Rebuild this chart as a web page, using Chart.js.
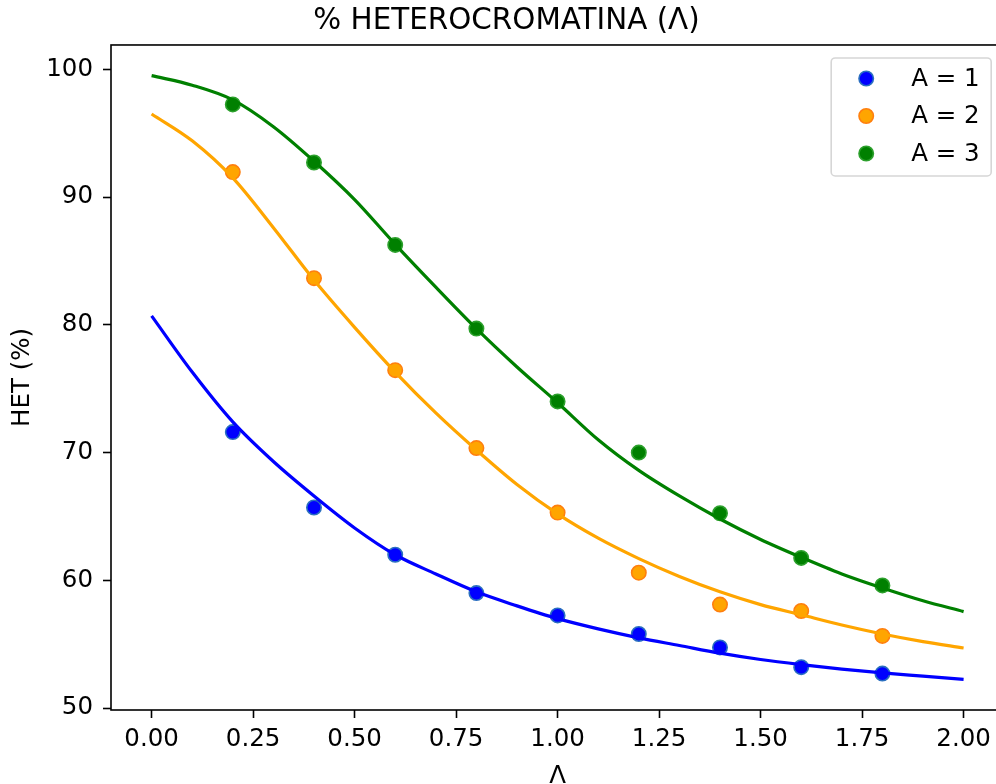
<!DOCTYPE html>
<html>
<head>
<meta charset="utf-8">
<title>% HETEROCROMATINA</title>
<script src="https://cdn.jsdelivr.net/npm/chart.js@4/dist/chart.umd.min.js"></script>
<style>
html, body { margin: 0; padding: 0; background: #fff; overflow: hidden; }
#wrap { width: 1013px; height: 800px; }
</style>
</head>
<body>
<div id="wrap"><canvas id="graphHet" width="1013" height="800"></canvas></div>
<script>
// Measured points (Lambda, HET %)
var lambdaPoints = [0.2, 0.4, 0.6, 0.8, 1.0, 1.2, 1.4, 1.6, 1.8];
var het1Points = [71.6, 65.7, 62.0, 59.0, 57.25, 55.8, 54.75, 53.2, 52.7];
var het2Points = [91.95, 83.65, 76.45, 70.35, 65.3, 60.6, 58.1, 57.6, 55.65];
var het3Points = [97.25, 92.7, 86.25, 79.7, 74.0, 70.0, 65.25, 61.75, 59.6];

// Fitted curves, every 0.1
var lambdaFit = [0, 0.1, 0.2, 0.3, 0.4, 0.5, 0.6, 0.7, 0.8, 0.9, 1.0, 1.1, 1.2, 1.3, 1.4, 1.5, 1.6, 1.7, 1.8, 1.9, 2.0];
var het1Fit = [80.7, 76.3, 72.4, 69.3, 66.6, 64.1, 62.0, 60.5, 59.1, 58.0, 57.0, 56.2, 55.5, 54.9, 54.3, 53.8, 53.4, 53.05, 52.75, 52.5, 52.25];
var het2Fit = [96.5, 94.4, 91.5, 87.6, 83.5, 79.8, 76.3, 73.1, 70.2, 67.5, 65.2, 63.3, 61.7, 60.3, 59.1, 58.1, 57.3, 56.5, 55.8, 55.2, 54.7];
var het3Fit = [99.5, 98.75, 97.6, 95.5, 92.8, 89.8, 86.3, 82.95, 79.7, 76.7, 73.9, 71.0, 68.6, 66.6, 64.8, 63.2, 61.8, 60.5, 59.4, 58.4, 57.55];

var seriesLabels = ['A = 1', 'A = 2', 'A = 3'];
var xTicks = [0, 0.25, 0.5, 0.75, 1.0, 1.25, 1.5, 1.75, 2.0];
var yTicks = [50, 60, 70, 80, 90, 100];

var lineColors = ['#0000ff', '#ffa500', '#008000'];
var edgeColors = ['#2a6fc0', '#ff7f0e', '#2ca02c'];

/**
 * Pair x and y arrays into {x, y} points
 */
function toXY(xs, ys) {
    var out = [];
    for (var i = 0; i < xs.length; i++) {
        out.push({x: xs[i], y: ys[i]});
    }
    return out;
}

var pointSets = [het1Points, het2Points, het3Points];
var fitSets = [het1Fit, het2Fit, het3Fit];
var datasets = [];

for (var i = 0; i < 3; i++) {
    datasets.push({
        type: 'scatter',
        label: seriesLabels[i],
        data: toXY(lambdaPoints, pointSets[i]),
        backgroundColor: lineColors[i],
        borderColor: edgeColors[i],
        borderWidth: 1.6,
        pointRadius: 7.2,
        pointHoverRadius: 7.2,
        order: 1
    });
    datasets.push({
        type: 'line',
        label: '',
        data: toXY(lambdaFit, fitSets[i]),
        borderColor: lineColors[i],
        borderWidth: 3.2,
        pointRadius: 0,
        fill: false,
        cubicInterpolationMode: 'monotone',
        order: 0
    });
}

// Axes box and legend drawn like matplotlib
var frameAndLegend = {
    id: 'frameAndLegend',
    afterDraw: function(chart) {
        var ctx = chart.ctx;
        var area = chart.chartArea;
        ctx.save();
        ctx.strokeStyle = '#000';
        ctx.lineWidth = 1.6;
        ctx.strokeRect(area.left, area.top, area.right - area.left, area.bottom - area.top);

        var boxW = 160, boxH = 118;
        var boxLeft = area.right - 13 - boxW;
        var boxTop = area.top + 13;
        ctx.beginPath();
        ctx.roundRect(boxLeft, boxTop, boxW, boxH, 4);
        ctx.fillStyle = 'rgba(255,255,255,0.8)';
        ctx.fill();
        ctx.strokeStyle = '#d6d6d6';
        ctx.lineWidth = 1.6;
        ctx.stroke();

        ctx.font = '24.5px "DejaVu Sans"';
        ctx.textBaseline = 'middle';
        ctx.textAlign = 'left';
        for (var k = 0; k < 3; k++) {
            var cy = boxTop + 20.5 + k * 37.5;
            ctx.beginPath();
            ctx.arc(boxLeft + 35, cy, 7.2, 0, Math.PI * 2);
            ctx.fillStyle = lineColors[k];
            ctx.fill();
            ctx.strokeStyle = edgeColors[k];
            ctx.lineWidth = 1.6;
            ctx.stroke();
            ctx.fillStyle = '#000';
            ctx.fillText(seriesLabels[k], boxLeft + 80, cy + 1);
        }
        ctx.restore();
    }
};

Chart.defaults.font.family = '"DejaVu Sans"';
Chart.defaults.color = '#000';

var ctxHet = document.getElementById('graphHet').getContext('2d');
var chartHet = new Chart(ctxHet, {
    type: 'scatter',
    data: { datasets: datasets },
    options: {
        responsive: false,
        animation: false,
        layout: { padding: 0 },
        plugins: {
            legend: { display: false },
            tooltip: { enabled: false },
            title: {
                display: true,
                text: '% HETEROCROMATINA (\u039B)',
                font: { size: 29.4, weight: 'normal' },
                color: '#000',
                padding: { top: 3.5, bottom: 6.2 }
            }
        },
        scales: {
            x: {
                type: 'linear',
                min: -0.1,
                max: 2.1,
                afterBuildTicks: function(scale) {
                    scale.ticks = xTicks.map(function(v) { return {value: v}; });
                },
                afterFit: function(scale) { scale.height = 90; },
                grid: { display: true, drawOnChartArea: false, drawTicks: true, tickLength: 8, tickWidth: 1.6, tickColor: '#000' },
                border: { display: false },
                ticks: {
                    autoSkip: false,
                    maxRotation: 0,
                    padding: 7,
                    font: { size: 24.5 },
                    callback: function(v) { return Number(v).toFixed(2); }
                },
                title: {
                    display: true,
                    text: '\u039B',
                    font: { size: 24.5 },
                    padding: { top: 4, bottom: 9 }
                }
            },
            y: {
                type: 'linear',
                min: 49.85,
                max: 101.9,
                afterBuildTicks: function(scale) {
                    scale.ticks = yTicks.map(function(v) { return {value: v}; });
                },
                afterFit: function(scale) { scale.width = 111; },
                grid: { display: true, drawOnChartArea: false, drawTicks: true, tickLength: 8, tickWidth: 1.6, tickColor: '#000' },
                border: { display: false },
                ticks: {
                    padding: 10,
                    font: { size: 24.5 },
                    callback: function(v) { return String(v); }
                },
                title: {
                    display: true,
                    text: 'HET (%)',
                    font: { size: 24.5 },
                    padding: { top: 8, bottom: 4 }
                }
            }
        }
    },
    plugins: [frameAndLegend]
});
</script>
</body>
</html>
